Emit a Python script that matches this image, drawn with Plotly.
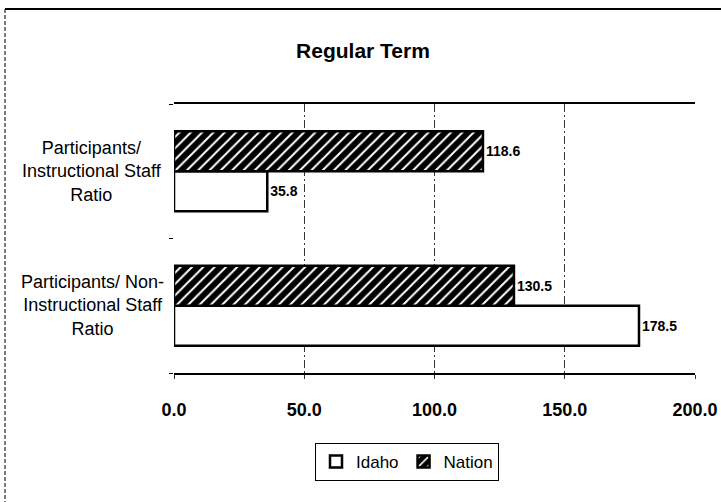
import plotly.graph_objects as go

# Ratios of participants to staff, regular term
categories = ["Instructional", "Non-Instructional"]
category_labels = [
    "Participants/<br>Instructional Staff<br>Ratio",
    "Participants/ Non-<br>Instructional Staff<br>Ratio",
]
idaho = [35.8, 178.5]
nation = [118.6, 130.5]
x_ticks = [0, 50, 100, 150, 200]

W, H = 721, 502
L, R, T, B = 174, 26, 104, 129
plot_w = W - L - R
plot_h = H - T - B


def px_to_paper_x(px):
    return (px - L) / plot_w


def px_to_paper_y(py):
    return (H - B - py) / plot_h


FONT = "Liberation Sans, Arial, sans-serif"
value_font = dict(family=FONT, size=14, color="black", weight="bold")

fig = go.Figure()

fig.add_trace(go.Bar(
    name="Idaho",
    y=categories,
    x=idaho,
    orientation="h",
    marker=dict(color="white", line=dict(color="black", width=2.5)),
    texttemplate="%{x:.1f}",
    textposition="outside",
    textfont=value_font,
    cliponaxis=False,
))

fig.add_trace(go.Bar(
    name="Nation",
    y=categories,
    x=nation,
    orientation="h",
    marker=dict(
        color="black",
        line=dict(color="black", width=2.5),
        pattern=dict(shape="/", bgcolor="black", fgcolor="white",
                     size=8, solidity=0.25, fillmode="replace"),
    ),
    texttemplate="%{x:.1f}",
    textposition="outside",
    textfont=value_font,
    cliponaxis=False,
))

# Category labels, centred in the left margin
annotations = [
    dict(text=lbl, x=px_to_paper_x(92), xref="paper", y=cat, yref="y",
         xanchor="center", yanchor="middle", align="center", showarrow=False,
         font=dict(family=FONT, size=18, color="black"))
    for cat, lbl in zip(categories, category_labels)
]

# Outer chart frame: top rule and dashed left edge
shapes = [
    dict(type="line", xref="paper", yref="paper",
         x0=px_to_paper_x(5), x1=px_to_paper_x(W), y0=px_to_paper_y(9), y1=px_to_paper_y(9),
         line=dict(color="black", width=2)),
    dict(type="line", xref="paper", yref="paper",
         x0=px_to_paper_x(5), x1=px_to_paper_x(5), y0=px_to_paper_y(9), y1=px_to_paper_y(H),
         line=dict(color="#222", width=1.2, dash="4px,2px")),
]

fig.update_layout(
    width=W, height=H,
    margin=dict(l=L, r=R, t=T, b=B, pad=0, autoexpand=False),
    paper_bgcolor="white",
    plot_bgcolor="white",
    barmode="group",
    bargap=0.405,
    bargroupgap=0,
    title=dict(text="<b>Regular Term</b>", x=363 / W, xanchor="center",
               y=1 - 51 / H, yanchor="middle", yref="container",
               font=dict(family=FONT, size=21, color="black")),
    legend=dict(orientation="h", x=px_to_paper_x(407), xanchor="center",
                y=px_to_paper_y(462), yanchor="middle",
                bordercolor="black", borderwidth=1, bgcolor="white",
                font=dict(family=FONT, size=17, color="black"),
                itemwidth=30, traceorder="normal"),
    annotations=annotations,
    shapes=shapes,
    showlegend=True,
)

fig.update_xaxes(
    range=[0, 200],
    tickvals=x_ticks,
    tickformat=".1f",
    automargin=False,
    showgrid=True,
    gridcolor="#333",
    gridwidth=1,
    griddash="8px,3px,2px,3px",
    zeroline=False,
    showline=True,
    mirror=True,
    linecolor="black",
    linewidth=2,
    ticks="outside",
    ticklen=4,
    tickcolor="#333",
    ticklabelstandoff=15,
    tickfont=dict(family=FONT, size=18, color="black", weight="bold"),
)

fig.update_yaxes(
    categoryorder="array",
    categoryarray=categories[::-1],
    automargin=False,
    showticklabels=False,
    showgrid=False,
    zeroline=False,
    showline=False,
    ticks="outside",
    tickson="boundaries",
    ticklen=4,
    tickcolor="black",
)

fig.write_html("out.html")
